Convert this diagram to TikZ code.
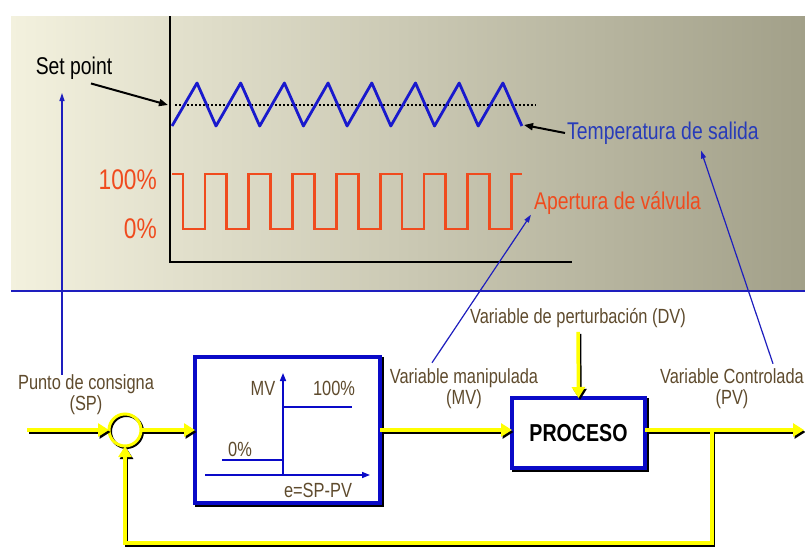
\documentclass[tikz,border=0pt]{standalone}
\usepackage{fontspec}
\setmainfont{Liberation Sans}[FakeStretch=0.8]
\usepackage{tikz}
\usetikzlibrary{arrows.meta, positioning, calc, backgrounds}

\definecolor{flowyellow}{RGB}{255,255,0}
\definecolor{boxblue}{RGB}{10,10,200}
\definecolor{wavblue}{RGB}{25,25,205}
\definecolor{tempblue}{RGB}{40,60,185}
\definecolor{ptrblue}{RGB}{30,30,190}
\definecolor{waveorange}{RGB}{240,75,30}
\definecolor{lblbrown}{RGB}{95,75,45}
\definecolor{panelleft}{RGB}{243,241,222}
\definecolor{panelmid}{RGB}{218,215,193}
\definecolor{panelright}{RGB}{162,160,137}

\newcommand\lblsize{\fontsize{20.5}{21}\selectfont}
\newcommand\topsize{\fontsize{24.2}{26}\selectfont}
\newcommand\pctsize{\fontsize{28.4}{30}\selectfont}
\newcommand\procsize{\fontsize{24.5}{26}\selectfont\bfseries}

% yellow signal lines, #1 = offset (shadow copy or none)
\newcommand\feedlinks[1]{
  \draw[feed] ($(spin)+#1$) -- ($(sum.west)+#1$);
  \draw[feed] ($(sum.east)+#1$) -- ($(ctrl.west)+#1$);
  \draw[feed] ($(ctrl.east)+#1$) -- ($(ctrl.east -| proc.west)+#1$);
  \draw[feed] ($(dvlbl.south)+(0,4)+#1$) -- ($(proc.north)+#1$);
  \draw[feed] ($(proc.east |- pvout)+#1$) -- ($(pvout)+#1$);
  \draw[feed] ($(tap)+#1$) -- ($(fbcorner)+#1$) -| ($(sum.south)+#1$);
}

\begin{document}
\begin{tikzpicture}[x=1pt, y=-1pt,
    feed/.style={draw=flowyellow, line width=3.5pt, -{Triangle[length=11pt,width=13pt]}},
    blockbox/.style={draw=boxblue, line width=4pt, fill=white, inner sep=0pt, outer sep=0pt},
    sumring/.style={circle, draw=flowyellow, line width=3pt, minimum size=32pt, inner sep=0pt, outer sep=0pt},
    lbl/.style={text=lblbrown, font=\lblsize, inner sep=0pt, align=center},
    toplbl/.style={font=\topsize, inner sep=0pt},
    pctlbl/.style={text=waveorange, font=\pctsize, inner sep=0pt},
    bluptr/.style={draw=ptrblue, line width=1.2pt, -{Triangle[length=8pt,width=5pt]}},
    blackptr/.style={draw=black, line width=2pt, -{Triangle[length=9pt,width=7pt]}},
    axisline/.style={draw=boxblue, line width=1.5pt}]
  \useasboundingbox (0,0) rectangle (805,546);

  % Top panel
  \begin{scope}[on background layer]
    \fill[white] (0,0) rectangle (805,546);
    \shade[left color=panelleft, middle color=panelmid, right color=panelright] (11,16) rectangle (805,291);
  \end{scope}
  \draw[ptrblue, line width=1.5pt] (11,291) -- (805,291);

  % Time plot
  \draw[black, line width=2.5pt] (170,16) -- (170,262) -- (572,262);
  \draw[black, dotted, line width=2pt] (175,105) -- (536,105);
  \draw[wavblue, line width=2.8pt, line join=round] (172,126)
    \foreach \k in {0,...,7}{ -- ({197+43.7*\k},83) -- ({216+43.7*\k},126) };
  \draw[waveorange, line width=2.8pt] (172,174)
    \foreach \k in {0,...,7}{ -- ({183+43.8*\k},174) -- ({183+43.8*\k},229)
      -- ({204.9+43.8*\k},229) -- ({204.9+43.8*\k},174) } -- (522,174);

  % Plot labels
  \node[toplbl] (setlbl) at (74,68) {Set point};
  \coordinate (spdot) at (168,105);
  \draw[blackptr] ($(setlbl.south)+(17,4)$) -- (spdot);
  \node[toplbl, text=tempblue, anchor=west] (templbl) at (567,133) {Temperatura de salida};
  \coordinate (tempend) at (524,125);
  \draw[blackptr] ([xshift=-2pt]templbl.west) -- (tempend);
  \node[toplbl, text=waveorange, anchor=west] (valvlbl) at (534,203) {Apertura de válvula};
  \node[pctlbl, anchor=east] (hilbl) at (157,180) {100\%};
  \node[pctlbl, anchor=east] (lolbl) at (157,229) {0\%};

  % Loop blocks
  \node[sumring] (sum) at (125,430) {};
  \node[blockbox, minimum width=185pt, minimum height=146pt] (ctrl) at (287.5,430) {};
  \node[blockbox, minimum width=133pt, minimum height=70pt, font=\procsize] (proc) at (578.5,433) {PROCESO};
  \begin{scope}[on background layer]
    \draw[black, line width=4pt] ($(ctrl.north west)+(2,2)$) rectangle ($(ctrl.south east)+(2,2)$);
    \draw[black, line width=4pt] ($(proc.north west)+(2,2)$) rectangle ($(proc.south east)+(2,2)$);
    \draw[black, line width=3pt] ($(sum)+(1.5,1.5)$) circle[radius=16];
  \end{scope}

  % On-off law inside controller
  \draw[axisline, -{Triangle[length=8pt,width=6pt]}] (205,475) -- (370,475);
  \draw[axisline, -{Triangle[length=8pt,width=6pt]}] (283,475) -- (283,373);
  \draw[axisline, line width=2pt] (283,407) -- (352,407);
  \draw[axisline, line width=2pt] (222,460) -- (283,460);
  \node[lbl] (mvtxt) at (263,388) {MV};
  \node[lbl] (hitxt) at (334,388) {100\%};
  \node[lbl] (lotxt) at (240,449) {0\%};
  \node[lbl] (etxt) at (318,490) {e=SP-PV};

  % Signal labels
  \node[lbl] (splbl) at (86,395) {Punto de consigna\\(SP)};
  \node[lbl] (mvlbl) at (464,389) {Variable manipulada\\(MV)};
  \node[lbl] (dvlbl) at (578,318) {Variable de perturbación (DV)};
  \node[lbl] (pvlbl) at (732,389) {Variable Controlada\\(PV)};

  % Signal flow
  \coordinate (spin) at (27,430);
  \coordinate (pvout) at (804,430);
  \coordinate (tap) at (712,430);
  \coordinate (fbcorner) at (712,543);
  \begin{scope}[feed/.append style={draw=black}]
    \feedlinks{(1.5,2)}
  \end{scope}
  \feedlinks{(0,0)}

  % Pointers to the plot
  \coordinate (sptip) at (62,93);
  \draw[bluptr] (sptip |- splbl.north) -- (sptip);
  \draw[bluptr] ($(mvlbl.north)+(-32,-6)$) -- ($(valvlbl.south west)+(-3,0)$);
  \draw[bluptr] ($(pvlbl.north)+(41,-5)$) -- ($(templbl.south)+(38,6)$);
\end{tikzpicture}
\end{document}
